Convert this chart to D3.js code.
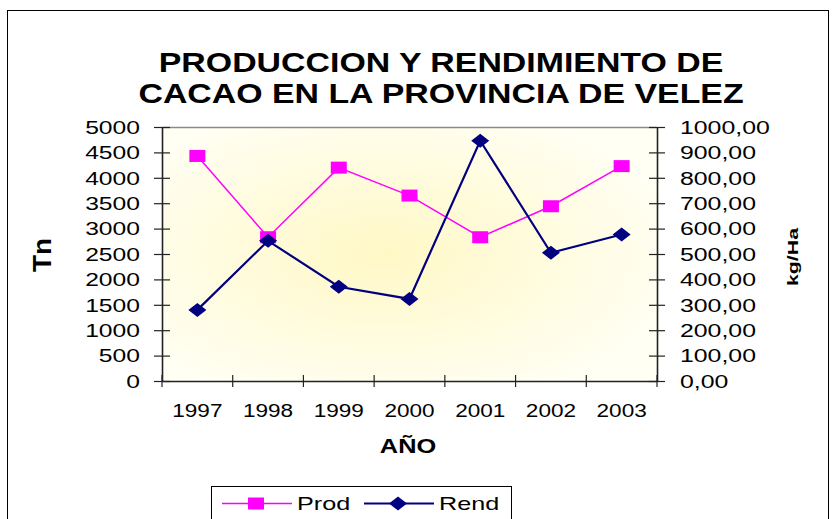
<!DOCTYPE html>
<html>
<head>
<meta charset="utf-8">
<script src="https://cdn.jsdelivr.net/npm/d3@7"></script>
<style>
  body { margin: 0; background: #fff; }
  svg { display: block; font-family: Arial, "Liberation Sans", sans-serif; }
</style>
</head>
<body>
<script>
// datos
const years = ["1997", "1998", "1999", "2000", "2001", "2002", "2003"];
const prod = [4430, 2830, 4200, 3650, 2830, 3440, 4230];   // Tn
const rend = [280, 552, 371, 323, 946, 505, 577];          // kg/Ha
const prodTicks = [0, 500, 1000, 1500, 2000, 2500, 3000, 3500, 4000, 4500, 5000];
const rendTicks = [0, 100, 200, 300, 400, 500, 600, 700, 800, 900, 1000];
const titleLines = ["PRODUCCION Y RENDIMIENTO DE", "CACAO EN LA PROVINCIA DE VELEZ"];

const width = 832, height = 519;
const margin = { top: 127, right: 175, bottom: 138, left: 162 };

const svg = d3.select("body").append("svg")
    .attr("width", width)
    .attr("height", height);

// fondo degradado del area de trazado
const defs = svg.append("defs");
const grad = defs.append("radialGradient")
    .attr("id", "bg")
    .attr("cx", 0.45).attr("cy", 0.5).attr("r", 0.62);
grad.append("stop").attr("offset", "0%").attr("stop-color", "#fff8c6");
grad.append("stop").attr("offset", "100%").attr("stop-color", "#fffff4");

// marco exterior
svg.append("rect")
    .attr("x", 7.5).attr("y", 10.5)
    .attr("width", 821).attr("height", 530)
    .attr("fill", "#fff").attr("stroke", "#000");

const x = d3.scaleBand()
    .domain(years)
    .range([margin.left, width - margin.right]);
const yL = d3.scaleLinear()
    .domain([0, 5000])
    .range([height - margin.bottom, margin.top]);
const yR = d3.scaleLinear()
    .domain([0, 1000])
    .range([height - margin.bottom, margin.top]);

const x0 = x.range()[0], x1 = x.range()[1];
const y0 = yL.range()[0], y1 = yL.range()[1];

svg.append("rect")
    .attr("x", x0).attr("y", y1)
    .attr("width", x1 - x0).attr("height", y0 - y1)
    .attr("fill", "url(#bg)");
svg.append("line")
    .attr("x1", x0).attr("x2", x1)
    .attr("y1", y1 + 0.5).attr("y2", y1 + 0.5)
    .attr("stroke", "#8a8a8a").attr("stroke-width", 1.5);

// titulo
svg.append("g")
    .selectAll("text")
    .data(titleLines)
    .join("text")
    .attr("transform", (d, i) => `translate(441,${72 + i * 31}) scale(1.21,1)`)
    .attr("text-anchor", "middle")
    .attr("font-weight", "bold")
    .attr("font-size", 28)
    .text(d => d);

const comma = d3.formatLocale({ decimal: ",", thousands: ".", grouping: [3], currency: ["", ""] });

// ejes
const axisStyle = (g, side) => {
    g.select(".domain").attr("stroke", "#222").attr("stroke-width", 1.6);
    g.selectAll(".tick line")
        .attr("stroke", "#222").attr("stroke-width", 1.2)
        .attr("x1", -8).attr("x2", 8);
    g.selectAll(".tick text")
        .attr("x", null).attr("dy", "0.35em")
        .attr("fill", "#000")
        .attr("font-size", 18)
        .attr("text-anchor", side === "left" ? "end" : "start")
        .attr("transform", side === "left" ? "translate(-22,0) scale(1.37,1)" : "translate(23,0) scale(1.38,1)");
};

svg.append("g")
    .attr("transform", `translate(${x0},0)`)
    .call(d3.axisLeft(yL).tickValues(prodTicks).tickSizeOuter(0).tickFormat(d3.format("d")))
    .call(g => axisStyle(g, "left"));

svg.append("g")
    .attr("transform", `translate(${x1},0)`)
    .call(d3.axisRight(yR).tickValues(rendTicks).tickSizeOuter(0).tickFormat(comma.format(".2f")))
    .call(g => axisStyle(g, "right"));

const xAxis = svg.append("g")
    .attr("transform", `translate(0,${y0})`)
    .call(d3.axisBottom(x).tickSize(0).tickSizeOuter(0));
xAxis.select(".domain").attr("stroke", "#222").attr("stroke-width", 1.6);
xAxis.selectAll(".tick text")
    .attr("y", null).attr("dy", null)
    .attr("fill", "#000")
    .attr("font-size", 18.5)
    .attr("transform", "translate(0,35.5) scale(1.22,1)");
xAxis.selectAll(".edge")
    .data(years.map(d => x(d)).concat([x1]))
    .join("line")
    .attr("class", "edge")
    .attr("x1", d => d).attr("x2", d => d)
    .attr("y1", -6).attr("y2", 6)
    .attr("stroke", "#222").attr("stroke-width", 1.2);

// titulos de ejes
svg.append("text")
    .attr("transform", "translate(408,453) scale(1.3,1)")
    .attr("text-anchor", "middle")
    .attr("font-weight", "bold").attr("font-size", 19.5)
    .text("AÑO");
svg.append("text")
    .attr("transform", "translate(51,255) rotate(-90) scale(1.07,1)")
    .attr("text-anchor", "middle")
    .attr("font-weight", "bold").attr("font-size", 26)
    .text("Tn");
svg.append("text")
    .attr("transform", "translate(798,257) rotate(-90) scale(1.42,1)")
    .attr("text-anchor", "middle")
    .attr("font-weight", "bold").attr("font-size", 15)
    .text("kg/Ha");

const cx = (d, i) => x(years[i]) + x.bandwidth() / 2;
const square = "M-8,-6H8V6H-8Z";
const diamond = "M0,-7L9,0L0,7L-9,0Z";

// serie Prod
svg.append("path")
    .datum(prod)
    .attr("fill", "none")
    .attr("stroke", "#ff00ff").attr("stroke-width", 1.5)
    .attr("d", d3.line().x(cx).y(d => yL(d)));
svg.append("g").selectAll("path")
    .data(prod)
    .join("path")
    .attr("transform", (d, i) => `translate(${cx(d, i)},${yL(d)})`)
    .attr("d", square)
    .attr("fill", "#ff00ff");

// serie Rend
svg.append("path")
    .datum(rend)
    .attr("fill", "none")
    .attr("stroke", "#000080").attr("stroke-width", 2.2)
    .attr("d", d3.line().x(cx).y(d => yR(d)));
svg.append("g").selectAll("path")
    .data(rend)
    .join("path")
    .attr("transform", (d, i) => `translate(${cx(d, i)},${yR(d)})`)
    .attr("d", diamond)
    .attr("fill", "#000080");

// leyenda
const legend = svg.append("g");
legend.append("rect")
    .attr("x", 211.5).attr("y", 486.5)
    .attr("width", 300).attr("height", 45)
    .attr("fill", "#fff").attr("stroke", "#000");
const items = [
    { name: "Prod", color: "#ff00ff", w: 1.5, mark: square, x: 222 },
    { name: "Rend", color: "#000080", w: 2.2, mark: diamond, x: 364 }
];
items.forEach(it => {
    legend.append("line")
        .attr("x1", it.x).attr("x2", it.x + 70)
        .attr("y1", 503.5).attr("y2", 503.5)
        .attr("stroke", it.color).attr("stroke-width", it.w);
    legend.append("path")
        .attr("transform", `translate(${it.x + 34},503.5)`)
        .attr("d", it.mark)
        .attr("fill", it.color);
    legend.append("text")
        .attr("transform", `translate(${it.x + 75},509.5) scale(1.4,1)`)
        .attr("font-size", 18)
        .text(it.name);
});
</script>
</body>
</html>
